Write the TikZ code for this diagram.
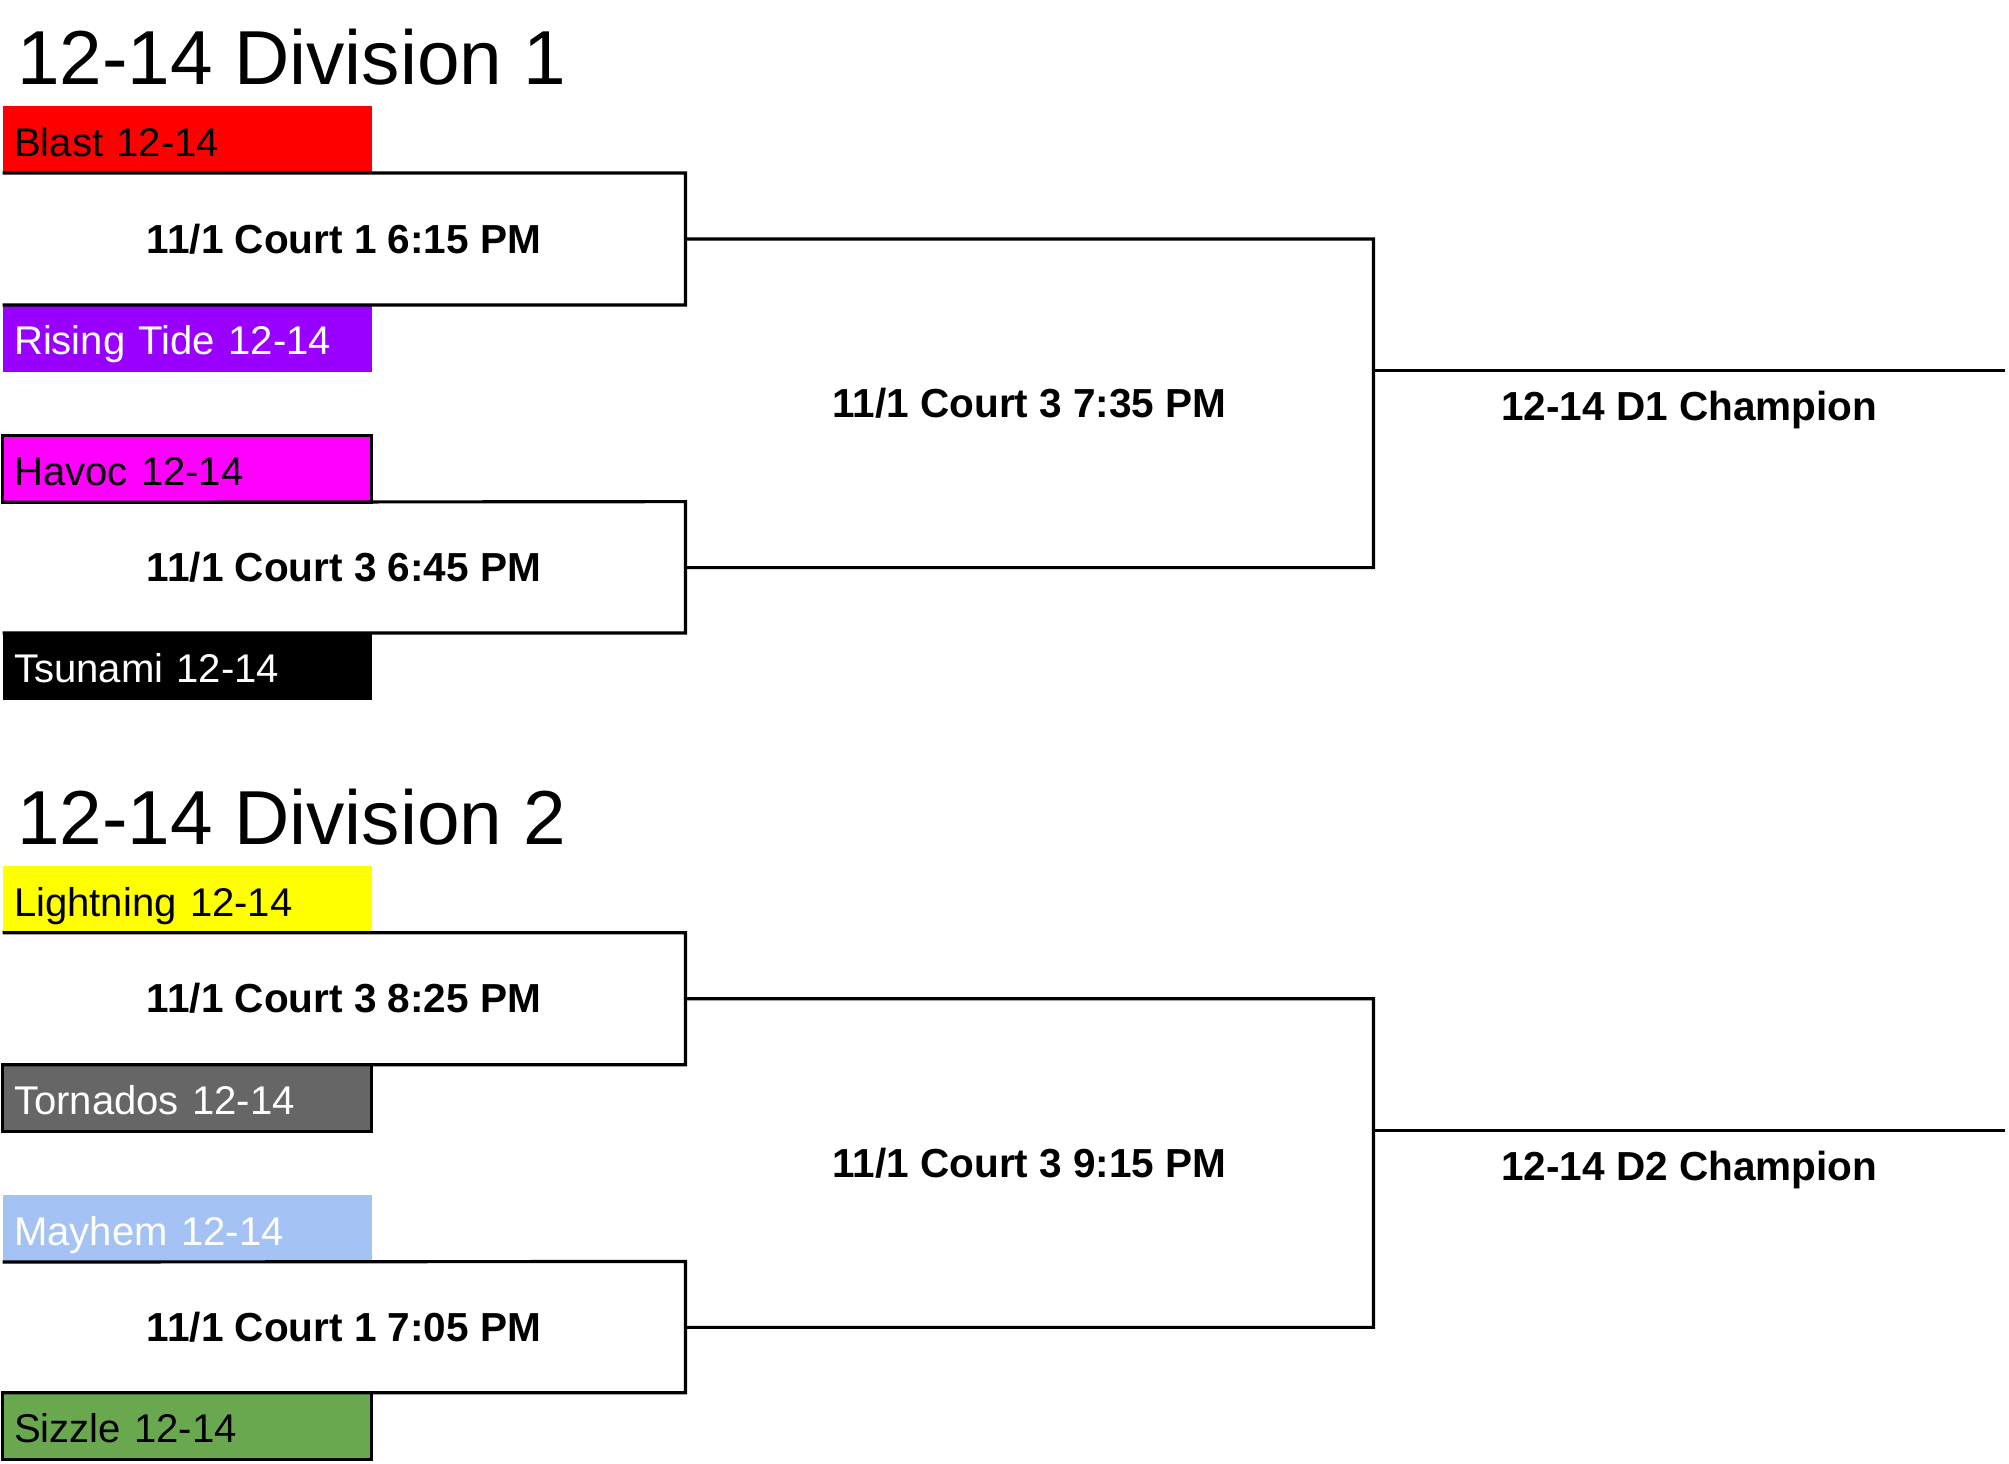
\documentclass[tikz,border=0pt]{standalone}
\usepackage{fontspec}
\setmainfont{Liberation Sans}
\definecolor{blastred}{HTML}{FF0000}
\definecolor{tidepurple}{HTML}{9900FF}
\definecolor{havocpink}{HTML}{FF00FF}
\definecolor{boltyellow}{HTML}{FFFF00}
\definecolor{stormgray}{HTML}{666666}
\definecolor{mayhemblue}{HTML}{A4C2F4}
\definecolor{sizzlegreen}{HTML}{6AA84F}
\begin{document}
\begin{tikzpicture}[line width=0.7pt,
    every node/.style={outer sep=0pt},
    team/.style={rectangle, anchor=north west,
        minimum width=2.88cm, minimum height=0.52cm,
        inner xsep=0.09cm, inner ysep=0pt, text width=2.70cm, align=left,
        text height=0.26cm, text depth=0pt,
        font=\fontsize{8.9}{10}\selectfont},
    game/.style={rectangle, inner sep=0pt,
        text height=0.22cm, text depth=0pt,
        font=\fontsize{9.0}{10}\selectfont\bfseries},
    champ/.style={game, anchor=north,
        minimum width=4.93cm, minimum height=0.56cm},
    heading/.style={anchor=base west, inner sep=0pt,
        font=\fontsize{17}{20}\selectfont}]
    \useasboundingbox (0,0) rectangle (15.68,-11.42);

    % division 1
    \node[heading] (17) at(0.135,-0.66){12-14 Division 1};
    \node[team,fill=blastred] (1) at(0.02,-0.83){Blast 12-14};
    \node[team,fill=tidepurple,text=white] (2) at(0.02,-2.38){Rising Tide 12-14};
    \node[team,fill=havocpink,draw=black] (3) at(0.02,-3.40){Havoc 12-14};
    \node[team,fill=black,text=white,minimum width=2.85cm] (4) at(0.02,-4.94){Tsunami 12-14};
    \node[game,minimum width=5.33cm,minimum height=1.03cm] (9) at(2.685,-1.865){11/1 Court 1 6:15 PM};
    \node[game,minimum width=5.33cm,minimum height=1.03cm] (10) at(2.685,-4.43){11/1 Court 3 6:45 PM};
    \node[game,minimum width=5.37cm,minimum height=2.565cm] (13) at(8.035,-3.1475){11/1 Court 3 7:35 PM};
    \node[champ] (15) at(13.185,-2.89){12-14 D1 Champion};

    % division 2
    \node[heading] (18) at(0.135,-6.59){12-14 Division 2};
    \node[team,fill=boltyellow] (5) at(0.02,-6.76){Lightning 12-14};
    \node[team,fill=stormgray,draw=black,text=white] (6) at(0.02,-8.31){Tornados 12-14};
    \node[team,fill=mayhemblue,text=white] (7) at(0.02,-9.33){Mayhem 12-14};
    \node[team,fill=sizzlegreen,draw=black] (8) at(0.02,-10.87){Sizzle 12-14};
    \node[game,minimum width=5.33cm,minimum height=1.03cm] (11) at(2.685,-7.795){11/1 Court 3 8:25 PM};
    \node[game,minimum width=5.33cm,minimum height=1.03cm] (12) at(2.685,-10.36){11/1 Court 1 7:05 PM};
    \node[game,minimum width=5.37cm,minimum height=2.565cm] (14) at(8.035,-9.0775){11/1 Court 3 9:15 PM};
    \node[champ] (16) at(13.185,-8.82){12-14 D2 Champion};

    \draw (1.south west) -- (9.north east) |- (2.north west);
    \draw (3.south west) -- (10.north east) |- (4.north west);
    \draw (9.east) -- (13.north east) |- (10.east);
    \draw (13.east |- 15.north) -- (15.north east);
    \draw (5.south west) -- (11.north east) |- (6.north west);
    \draw (7.south west) -- (12.north east) |- (8.north west);
    \draw (11.east) -- (14.north east) |- (12.east);
    \draw (14.east |- 16.north) -- (16.north east);
\end{tikzpicture}
\end{document}
